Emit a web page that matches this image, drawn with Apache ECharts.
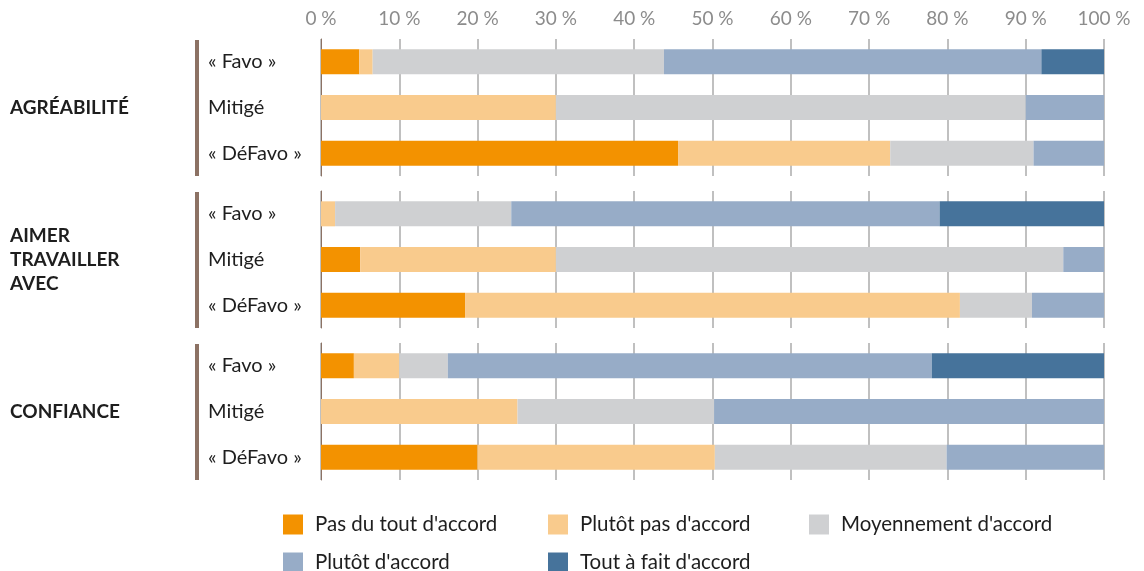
<!DOCTYPE html>
<html>
<head>
<meta charset="utf-8">
<script src="https://cdn.jsdelivr.net/npm/echarts@6/dist/echarts.min.js"></script>
<style>
  html, body { margin: 0; padding: 0; background: #fff; }
  #main { width: 1144px; height: 571px; }
</style>
</head>
<body>
<div id="main"></div>
<script>
// données (%)
var rows = ['« Favo »', 'Mitigé', '« DéFavo »'];
var groups = ['AGRÉABILITÉ', 'AIMER\nTRAVAILLER\nAVEC', 'CONFIANCE'];
var ticks = [0, 10, 20, 30, 40, 50, 60, 70, 80, 90, 100];
var answers = ['Pas du tout d\'accord', 'Plutôt pas d\'accord', 'Moyennement d\'accord', 'Plutôt d\'accord', 'Tout à fait d\'accord'];
var colors = ['#f39200', '#f9cb8d', '#cfd0d2', '#97acc7', '#46739b'];

var pasDuTout   = [[4.9, 0, 45.6], [0, 5.0, 18.4], [4.2, 0, 20.0]];
var plutotPas   = [[1.7, 30.0, 27.1], [1.8, 25.0, 63.2], [5.8, 25.1, 30.3]];
var moyennement = [[37.2, 60.0, 18.3], [22.5, 64.8, 9.2], [6.2, 25.1, 29.6]];
var plutot      = [[48.2, 10.0, 9.0], [54.7, 5.2, 9.2], [61.8, 49.8, 20.1]];
var toutAFait   = [[8.0, 0, 0], [21.0, 0, 0], [22.0, 0, 0]];

var values = [pasDuTout, plutotPas, moyennement, plutot, toutAFait];

var font = 'Lato';
var myChart = echarts.init(document.getElementById('main'));

var gridTops = [39, 191, 343];
var groupCenters = [108, 260, 412];
var grid = [], xAxis = [], yAxis = [], series = [], graphic = [];

gridTops.forEach(function (top, g) {
    grid.push({ left: 321, right: 40, top: top, height: 137 });
    xAxis.push({
        type: 'value', gridIndex: g, min: 0, max: 100, interval: 10,
        position: 'top',
        axisLine: { show: false },
        axisTick: { show: false },
        axisLabel: {
            show: g === 0, margin: 11, color: '#8c8c8c', fontSize: 19,
            fontFamily: font,
            formatter: function (v) { return ticks.indexOf(v) >= 0 ? v + ' %' : ''; }
        },
        splitLine: { lineStyle: { color: '#ababab', width: 1.5 } }
    });
    yAxis.push({
        type: 'category', gridIndex: g, data: rows, inverse: true,
        axisLine: { show: true, lineStyle: { color: '#8c7264', width: 1 } },
        axisTick: { show: false },
        axisLabel: {
            align: 'left', margin: 113, color: '#1e1e1e', fontSize: 20,
            fontFamily: font
        }
    });
    answers.forEach(function (name, s) {
        series.push({
            name: name, type: 'bar', stack: 'g' + g,
            xAxisIndex: g, yAxisIndex: g,
            barWidth: 25,
            itemStyle: { color: colors[s] },
            data: values[s][g]
        });
    });
    // barre brune de groupe
    graphic.push({
        type: 'rect', left: 195, top: top + 1,
        shape: { width: 4, height: 136 },
        style: { fill: '#8c7264' }
    });
    var nLines = groups[g].split('\n').length;
    graphic.push({
        type: 'text', left: 10, top: groupCenters[g] - nLines * 12,
        style: {
            text: groups[g], fill: '#1e1e1e', fontSize: 19, fontWeight: 'bold',
            fontFamily: font, lineHeight: 24
        }
    });
});

// légende sur deux lignes
var legendPos = [[283, 514], [548, 514], [809, 514], [283, 552], [548, 552]];
var legend = answers.map(function (name, i) {
    return {
        data: [name], left: legendPos[i][0], top: legendPos[i][1],
        itemWidth: 20, itemHeight: 20, icon: 'rect', padding: 0,
        textStyle: { fontSize: 20.5, color: '#1e1e1e', fontFamily: font, padding: [0, 0, 0, 7] }
    };
});

var option = {
    animation: false,
    grid: grid,
    xAxis: xAxis,
    yAxis: yAxis,
    legend: legend,
    series: series,
    graphic: graphic
};

myChart.setOption(option);
</script>
</body>
</html>
